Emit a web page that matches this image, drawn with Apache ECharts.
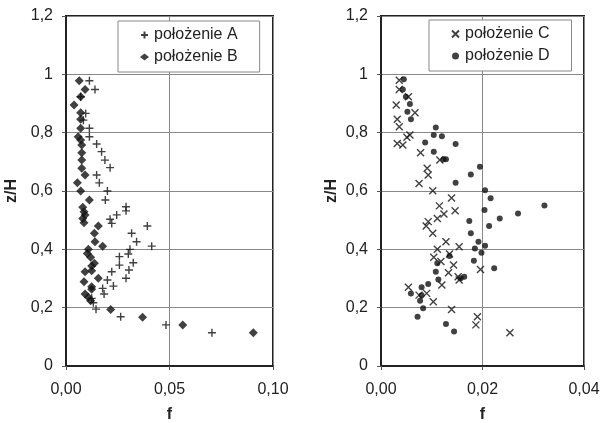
<!DOCTYPE html>
<html><head><meta charset="utf-8">
<script src="https://cdn.jsdelivr.net/npm/echarts@6/dist/echarts.min.js"></script>
<style>html,body{margin:0;padding:0;background:#fff;overflow:hidden;width:601px;height:423px}#c{width:601px;height:423px;overflow:hidden}</style>
</head><body><div id="c"></div>
<script>
// Left panel: position A (+) and B (diamond)
const posA_f = [0.0113,0.0140,0.0071,0.0095,0.0084,0.0113,0.0113,0.0148,0.0172,0.0188,0.0213,0.0148,0.0161,0.0200,0.0190,0.0290,0.0290,0.0245,0.0213,0.0221,0.0393,0.0317,0.0341,0.0414,0.0309,0.0301,0.0258,0.0325,0.0258,0.0304,0.0221,0.0290,0.0200,0.0229,0.0177,0.0184,0.0124,0.0132,0.0145,0.0264,0.0483,0.0705];
const posA_z = [0.978,0.948,0.923,0.866,0.843,0.815,0.786,0.761,0.735,0.706,0.680,0.655,0.628,0.600,0.569,0.546,0.532,0.518,0.503,0.489,0.480,0.455,0.426,0.411,0.400,0.384,0.375,0.354,0.346,0.329,0.323,0.301,0.295,0.274,0.266,0.247,0.232,0.217,0.195,0.169,0.141,0.114];
const posB_f = [0.0064,0.0092,0.0071,0.0039,0.0071,0.0071,0.0071,0.0059,0.0071,0.0076,0.0076,0.0076,0.0076,0.0092,0.0055,0.0071,0.0113,0.0081,0.0087,0.0092,0.0081,0.0087,0.0156,0.0137,0.0140,0.0177,0.0108,0.0103,0.0119,0.0137,0.0124,0.0092,0.0124,0.0156,0.0087,0.0124,0.0124,0.0092,0.0108,0.0119,0.0216,0.0370,0.0564,0.0905];
const posB_z = [0.978,0.948,0.923,0.895,0.868,0.846,0.815,0.786,0.775,0.758,0.731,0.706,0.678,0.655,0.628,0.600,0.569,0.544,0.529,0.518,0.506,0.491,0.480,0.455,0.426,0.411,0.400,0.386,0.373,0.352,0.343,0.323,0.327,0.301,0.289,0.272,0.263,0.247,0.236,0.224,0.194,0.167,0.141,0.114];
// Right panel: position C (x) and D (dot)
const posC_f = [0.0036,0.0036,0.0054,0.0030,0.0067,0.0032,0.0036,0.0057,0.0051,0.0032,0.0043,0.0078,0.0091,0.0093,0.0116,0.0075,0.0102,0.0139,0.0115,0.0146,0.0124,0.0111,0.0093,0.0089,0.0102,0.0128,0.0154,0.0111,0.0135,0.0104,0.0118,0.0143,0.0196,0.0133,0.0152,0.0154,0.0120,0.0054,0.0075,0.0090,0.0103,0.0139,0.0190,0.0187,0.0254];
const posC_z = [0.980,0.948,0.923,0.895,0.868,0.846,0.820,0.792,0.784,0.763,0.758,0.731,0.678,0.655,0.706,0.626,0.601,0.576,0.549,0.532,0.521,0.506,0.495,0.480,0.455,0.426,0.409,0.400,0.384,0.373,0.358,0.346,0.331,0.320,0.306,0.295,0.278,0.270,0.243,0.249,0.220,0.194,0.169,0.141,0.114];
const posD_f = [0.0045,0.0043,0.0049,0.0057,0.0052,0.0059,0.0108,0.0104,0.0120,0.0087,0.0147,0.0104,0.0123,0.0128,0.0195,0.0177,0.0147,0.0205,0.0216,0.0322,0.0270,0.0204,0.0234,0.0174,0.0213,0.0177,0.0192,0.0205,0.0185,0.0198,0.0135,0.0183,0.0111,0.0223,0.0108,0.0164,0.0157,0.0113,0.0093,0.0080,0.0059,0.0080,0.0077,0.0083,0.0072,0.0128,0.0144];
const posD_z = [0.983,0.948,0.923,0.898,0.872,0.846,0.818,0.792,0.788,0.766,0.761,0.735,0.709,0.709,0.683,0.657,0.628,0.603,0.575,0.550,0.523,0.535,0.506,0.497,0.480,0.455,0.426,0.412,0.403,0.388,0.377,0.361,0.352,0.335,0.323,0.306,0.301,0.297,0.281,0.270,0.249,0.243,0.224,0.198,0.169,0.144,0.118];
const seriesNames = ['położenie A','położenie B','położenie C','położenie D'];

const zip = (a,b) => a.map((v,i)=>[v,b[i]]);
const plusPath = 'path://M0,5L10,5M5,0L5,10';
const crossPath = 'path://M0,0L10,10M10,0L0,10';
const FONT = '"Liberation Sans", Arial, sans-serif';
const comma = s => String(s).replace('.', ',');

function xAx(idx, max, interval) {
  return {
    gridIndex: idx, type: 'value', min: 0, max: max, interval: interval,
    name: 'f', nameLocation: 'middle', nameGap: 41,
    nameTextStyle: {fontFamily: FONT, fontWeight: 'bold', fontSize: 16, color: '#222'},
    axisLine: {show: true, onZero: false, lineStyle: {color: '#222', width: 2}},
    axisTick: {show: true, length: 4, lineStyle: {color: '#555', width: 1}},
    axisLabel: {fontFamily: FONT, fontSize: 16, color: '#222', margin: 16,
      formatter: v => v.toFixed(2).replace('.', ',')},
    splitLine: {show: true, lineStyle: {color: '#888', width: 1}}
  };
}
function yAx(idx, gap) {
  return {
    gridIndex: idx, type: 'value', min: 0, max: 1.2, interval: 0.2,
    name: 'z/H', nameLocation: 'middle', nameGap: gap, nameRotate: 90,
    nameTextStyle: {fontFamily: FONT, fontWeight: 'bold', fontSize: 16, color: '#222'},
    axisLine: {show: true, onZero: false, lineStyle: {color: '#222', width: 2}},
    axisTick: {show: true, length: 4, lineStyle: {color: '#555', width: 1}},
    axisLabel: {fontFamily: FONT, fontSize: 16, color: '#222', margin: 13,
      formatter: v => comma(+v.toFixed(1))},
    splitLine: {show: true, lineStyle: {color: '#888', width: 1}}
  };
}
function legend(left, top, names) {
  return {
    left: left, top: top, orient: 'vertical', data: names,
    backgroundColor: '#fff', borderColor: '#888', borderWidth: 1,
    padding: [6, 22, 7, 22], itemGap: 6, itemWidth: 9, itemHeight: 7,
    textStyle: {fontFamily: FONT, fontSize: 16, color: '#222', lineHeight: 16}
  };
}
function grid(left, width) {
  return {left: left, top: 16, width: width, height: 350, show: true, borderColor: '#222', borderWidth: 2,
    backgroundColor: 'transparent', containLabel: false, outerBoundsMode: 'none'};
}

const chart = echarts.init(document.getElementById('c'), null, {renderer: 'canvas', width: 601, height: 423});
chart.setOption({
  animation: false,
  backgroundColor: '#fff',
  grid: [grid(66, 207), grid(381, 203)],
  xAxis: [xAx(0, 0.10, 0.05), xAx(1, 0.04, 0.02)],
  yAxis: [yAx(0, 46), yAx(1, 41)],
  legend: [legend(118, 21, [seriesNames[0], seriesNames[1]]), legend(429, 20, [seriesNames[2], seriesNames[3]])],
  series: [
    {name: seriesNames[0], type: 'scatter', xAxisIndex: 0, yAxisIndex: 0, data: zip(posA_f, posA_z),
     symbol: plusPath, symbolSize: 8, itemStyle: {color: 'rgba(0,0,0,0)', borderColor: '#111', borderWidth: 1.4}},
    {name: seriesNames[1], type: 'scatter', xAxisIndex: 0, yAxisIndex: 0, data: zip(posB_f, posB_z),
     symbol: 'diamond', symbolSize: 9, itemStyle: {color: '#111'}},
    {name: seriesNames[2], type: 'scatter', xAxisIndex: 1, yAxisIndex: 1, data: zip(posC_f, posC_z),
     symbol: crossPath, symbolSize: 7, itemStyle: {color: 'rgba(0,0,0,0)', borderColor: '#111', borderWidth: 1.4}},
    {name: seriesNames[3], type: 'scatter', xAxisIndex: 1, yAxisIndex: 1, data: zip(posD_f, posD_z),
     symbol: 'circle', symbolSize: 6, itemStyle: {color: '#111'}}
  ]
});
</script></body></html>
